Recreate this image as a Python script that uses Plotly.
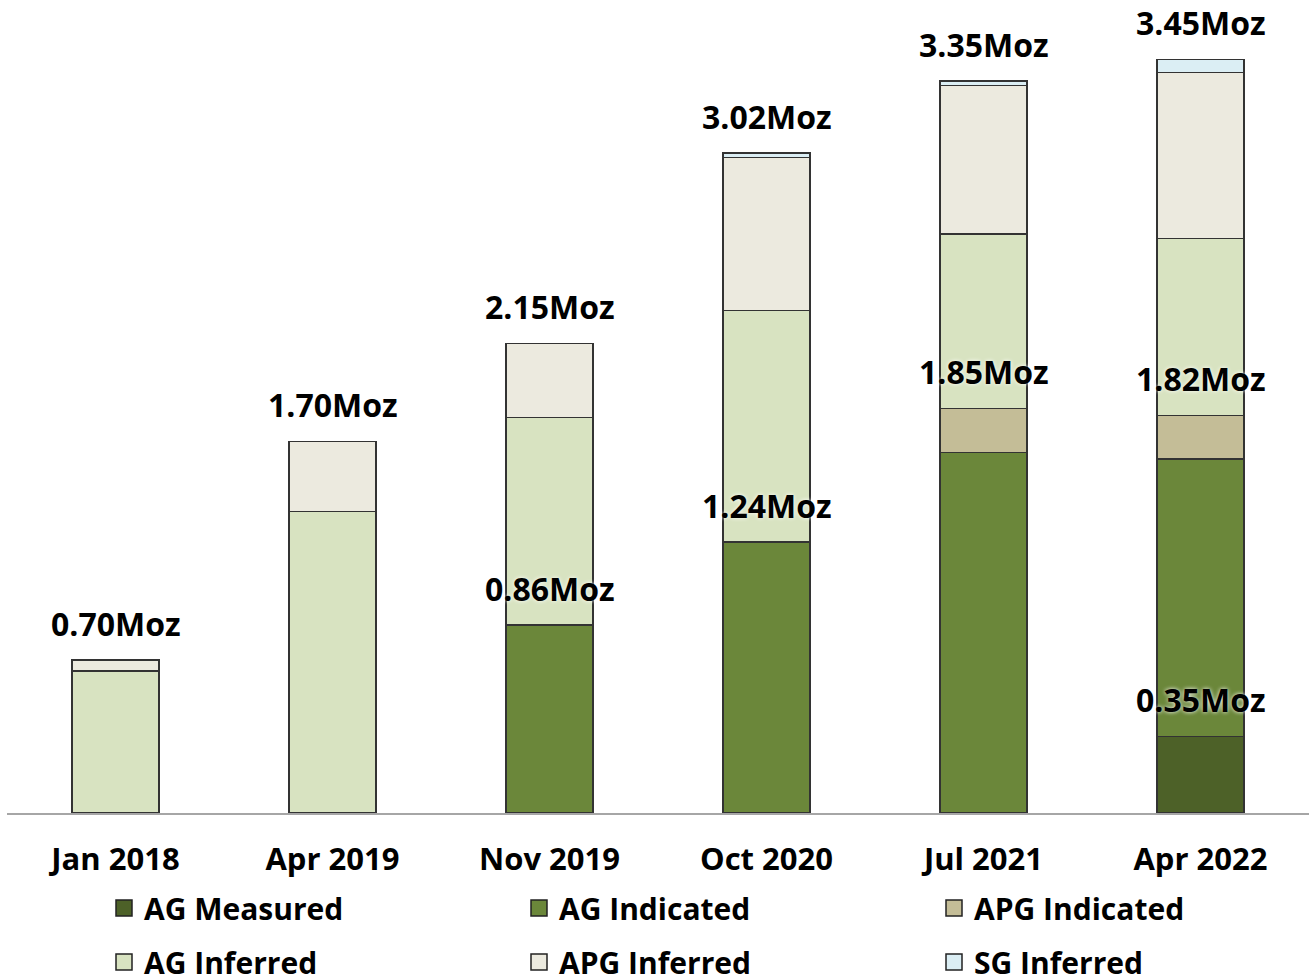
import plotly.graph_objects as go
import numpy as np

categories = ["Jan 2018", "Apr 2019", "Nov 2019", "Oct 2020", "Jul 2021", "Apr 2022"]
ag_measured = [None, None, None, None, None, 0.35]
ag_indicated = [None, None, 0.86, 1.24, 1.65, 1.27]
apg_indicated = [None, None, None, None, 0.20, 0.20]
ag_inferred = [0.65, 1.38, 0.95, 1.06, 0.80, 0.81]
apg_inferred = [0.05, 0.32, 0.34, 0.70, 0.68, 0.76]
sg_inferred = [None, None, None, 0.02, 0.02, 0.06]

series_names = ["AG Measured", "AG Indicated", "APG Indicated", "AG Inferred", "APG Inferred", "SG Inferred"]
series_values = [ag_measured, ag_indicated, apg_indicated, ag_inferred, apg_inferred, sg_inferred]
series_colors = ["#4d6128", "#6b873a", "#c4bd97", "#d8e3c1", "#eceadf", "#dbeef4"]

# inner labels: (category, number of stacked series below the label level)
inner_labels = [("Nov 2019", 2), ("Oct 2020", 2), ("Jul 2021", 3), ("Apr 2022", 3), ("Apr 2022", 1)]

FONT = "Open Sans"
fig = go.Figure()
for name, vals, col in zip(series_names, series_values, series_colors):
    fig.add_trace(go.Bar(x=categories, y=vals, name=name, width=0.4,
                         marker=dict(color=col, line=dict(color="#333333", width=1.3)),
                         showlegend=False, hoverinfo="skip"))

# legend entries (two rows via two legends)
for i, (name, col) in enumerate(zip(series_names, series_colors)):
    fig.add_trace(go.Scatter(x=[None], y=[None], mode="markers", name=name,
                             marker=dict(symbol="square", size=18, color=col,
                                         line=dict(color="#222222", width=1.5)),
                             legend="legend" if i < 3 else "legend2"))

arr = np.array([[v if v is not None else 0 for v in s] for s in series_values])
cum = np.cumsum(arr, axis=0)
totals = cum[-1]

ann = []
lab_font = dict(family=FONT, size=32, color="black", weight="bold", shadow="0px 0px 4px white")
for c, t in zip(categories, totals):
    ann.append(dict(x=c, y=t, text=f"{t:.2f}Moz", showarrow=False, yshift=37,
                    font=lab_font, xref="x", yref="y"))
for c, k in inner_labels:
    idx = categories.index(c)
    v = cum[k - 1][idx]
    ann.append(dict(x=c, y=v, text=f"{v:.2f}Moz", showarrow=False, yshift=37,
                    font=lab_font, xref="x", yref="y"))

leg_common = dict(orientation="h", xref="container", yref="container",
                  xanchor="left", yanchor="middle", entrywidth=370, entrywidthmode="pixels",
                  traceorder="normal",
                  font=dict(family=FONT, size=30, color="black", weight="bold"),
                  bgcolor="rgba(0,0,0,0)", itemclick=False)

fig.update_layout(
    width=1309, height=977,
    margin=dict(l=7, r=0, t=0, b=164, autoexpand=False),
    barmode="stack",
    plot_bgcolor="white", paper_bgcolor="white",
    annotations=ann,
    legend=dict(x=104 / 1309, y=1 - 908 / 977, **leg_common),
    legend2=dict(x=104 / 1309, y=1 - 962 / 977, **leg_common),
    xaxis=dict(showline=True, linecolor="#a6a6a6", linewidth=2, ticks="", automargin=False,
               tickfont=dict(family=FONT, size=31, color="black", weight="bold"),
               ticklabelstandoff=18, showgrid=False, zeroline=False),
    yaxis=dict(range=[0, 813 / 218.5], visible=False, showgrid=False, zeroline=False,
               automargin=False),
)
fig.write_html("out.html", config={"displayModeBar": False},
               post_script="document.body.style.margin='0';document.body.style.overflow='hidden';")
